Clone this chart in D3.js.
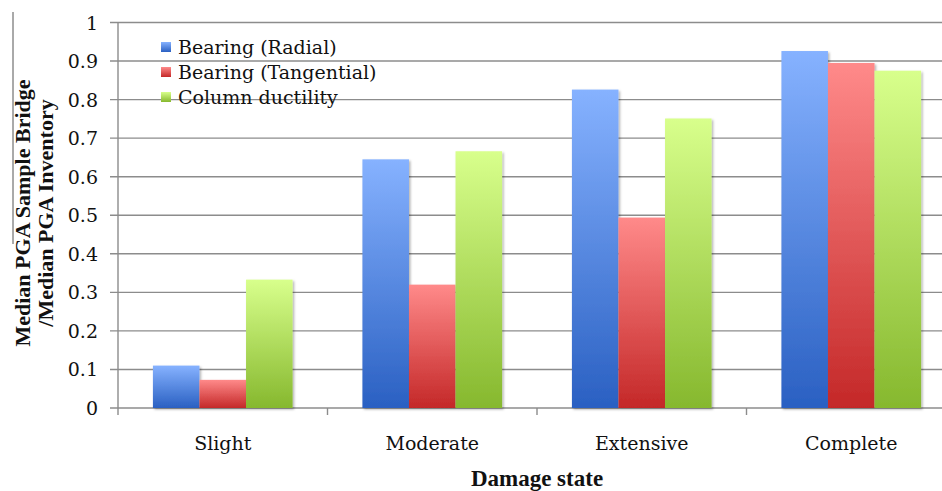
<!DOCTYPE html>
<html>
<head>
<meta charset="utf-8">
<script src="https://cdn.jsdelivr.net/npm/d3@7"></script>
<style>
  html, body { margin: 0; padding: 0; background: #fff; }
  svg { display: block; font-family: "DejaVu Serif", serif; }
  .bold { font-family: "Liberation Serif", "DejaVu Serif", serif; font-weight: bold; }
</style>
</head>
<body>
<svg id="chart" width="942" height="491"></svg>
<script>
// Damage states along the x axis
const categories = ["Slight", "Moderate", "Extensive", "Complete"];
// Series names (legend order)
const seriesNames = ["Bearing (Radial)", "Bearing (Tangential)", "Column ductility"];
// Ratio of median PGA: sample bridge / inventory
const bearingRadial     = [0.11, 0.645, 0.826, 0.926];
const bearingTangential = [0.073, 0.32, 0.494, 0.895];
const columnDuctility   = [0.333, 0.666, 0.751, 0.875];
// Y-axis ticks
const yTicks = [0, 0.1, 0.2, 0.3, 0.4, 0.5, 0.6, 0.7, 0.8, 0.9, 1];

const seriesValues = [bearingRadial, bearingTangential, columnDuctility];
// gradient stops (top, bottom) per series
const seriesColors = [
  ["#86b2ff", "#2a60c2"],
  ["#ff8a8a", "#c42828"],
  ["#d8ff8c", "#86b82e"]
];

const svg = d3.select("#chart");
const plot = { left: 118, right: 956, top: 22.5, bottom: 408 };

const x0 = d3.scaleBand()
  .domain(categories)
  .range([plot.left, plot.right])
  .paddingInner(1 / 3)
  .paddingOuter(1 / 6);

const x1 = d3.scaleBand()
  .domain(d3.range(seriesNames.length))
  .range([0, x0.bandwidth()]);

const y = d3.scaleLinear().domain([0, 1]).range([plot.bottom, plot.top]);

const defs = svg.append("defs");
seriesColors.forEach((c, i) => {
  const g = defs.append("linearGradient")
    .attr("id", "grad" + i)
    .attr("x1", 0).attr("y1", 0).attr("x2", 0).attr("y2", 1);
  g.append("stop").attr("offset", "0%").attr("stop-color", c[0]);
  g.append("stop").attr("offset", "100%").attr("stop-color", c[1]);
});
const shadow = defs.append("filter").attr("id", "shadow")
  .attr("x", "-10%").attr("y", "-10%").attr("width", "130%").attr("height", "130%");
shadow.append("feDropShadow")
  .attr("dx", 1.5).attr("dy", 1.5).attr("stdDeviation", 1.2)
  .attr("flood-color", "#000").attr("flood-opacity", 0.3);

// horizontal gridlines
svg.append("g")
  .selectAll("line")
  .data(yTicks)
  .join("line")
  .attr("x1", plot.left - 8)
  .attr("x2", 942)
  .attr("y1", d => y(d))
  .attr("y2", d => y(d))
  .attr("stroke", "#8c8c8c")
  .attr("stroke-width", 1.4);

// y axis line
svg.append("line")
  .attr("x1", plot.left).attr("x2", plot.left)
  .attr("y1", y(1)).attr("y2", plot.bottom + 7)
  .attr("stroke", "#8c8c8c").attr("stroke-width", 1.4);

// x axis tick marks at category boundaries
svg.append("g")
  .selectAll("line")
  .data(categories.slice(1))
  .join("line")
  .attr("x1", d => x0(d) - x0.step() * x0.paddingInner() / 2)
  .attr("x2", d => x0(d) - x0.step() * x0.paddingInner() / 2)
  .attr("y1", plot.bottom)
  .attr("y2", plot.bottom + 7)
  .attr("stroke", "#8c8c8c")
  .attr("stroke-width", 1.4);

// y tick labels
svg.append("g")
  .selectAll("text")
  .data(yTicks)
  .join("text")
  .attr("x", 98)
  .attr("y", d => y(d) + 7)
  .attr("text-anchor", "end")
  .attr("font-size", 19)
  .attr("fill", "#111")
  .text(d => d3.format("")(+d.toFixed(1)));

// bars
const groups = svg.append("g")
  .selectAll("g")
  .data(categories)
  .join("g")
  .attr("transform", d => `translate(${x0(d)},0)`);

groups.selectAll("rect")
  .data((d, ci) => seriesValues.map((vals, si) => ({ si, v: vals[ci] })))
  .join("rect")
  .attr("x", d => x1(d.si))
  .attr("width", x1.bandwidth())
  .attr("y", d => y(d.v))
  .attr("height", d => y(0) - y(d.v))
  .attr("fill", d => `url(#grad${d.si})`)
  .attr("filter", "url(#shadow)");

// category labels
svg.append("g")
  .selectAll("text")
  .data(categories)
  .join("text")
  .attr("x", d => x0(d) + x0.bandwidth() / 2)
  .attr("y", 450)
  .attr("text-anchor", "middle")
  .attr("font-size", 19)
  .attr("fill", "#111")
  .text(d => d);

// x axis title
svg.append("text")
  .attr("class", "bold")
  .attr("x", (plot.left + plot.right) / 2)
  .attr("y", 486)
  .attr("text-anchor", "middle")
  .attr("font-size", 23)
  .attr("fill", "#111")
  .text("Damage state");

// y axis title (two lines)
const yTitle = svg.append("text")
  .attr("class", "bold")
  .attr("transform", "translate(30,213) rotate(-90)")
  .attr("text-anchor", "middle")
  .attr("font-size", 22)
  .attr("fill", "#111");
yTitle.append("tspan").attr("x", 0).attr("y", 0).text("Median PGA Sample Bridge");
yTitle.append("tspan").attr("x", 0).attr("y", 23).text("/Median PGA Inventory");

// thin rule at the left edge
svg.append("line")
  .attr("x1", 13).attr("x2", 13)
  .attr("y1", 12).attr("y2", 244)
  .attr("stroke", "#555").attr("stroke-width", 1);

// legend
const legend = svg.append("g")
  .selectAll("g")
  .data(seriesNames)
  .join("g")
  .attr("transform", (d, i) => `translate(161,${42 + i * 25})`);
legend.append("rect")
  .attr("width", 10).attr("height", 10)
  .attr("fill", (d, i) => `url(#grad${i})`);
legend.append("text")
  .attr("x", 17)
  .attr("y", 12)
  .attr("font-size", 19)
  .attr("fill", "#111")
  .text(d => d);
</script>
</body>
</html>
